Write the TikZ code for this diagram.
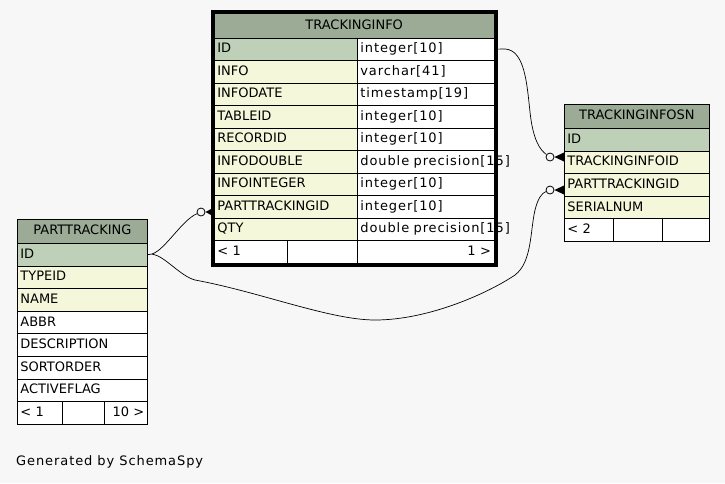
\documentclass[tikz,border=0pt]{standalone}
\usepackage{fontspec}
\setmainfont{DejaVu Sans}
\newfontfamily\typefont[LetterSpace=7]{DejaVu Sans}
\usetikzlibrary{calc}

\definecolor{headbg}{HTML}{9BAB96}
\definecolor{pkbg}{HTML}{BED1B8}
\definecolor{idxbg}{HTML}{F4F7DA}
\definecolor{pagebg}{HTML}{F7F7F7}

\tikzset{
  cell/.style={draw, line width=0.8pt, anchor=north west, inner sep=0pt, inner xsep=3pt,
    minimum height=22.6pt, text height=9.5pt, text depth=2.5pt, align=left,
    font=\fontsize{13}{15}\selectfont},
  head/.style={cell, fill=headbg, align=center},
  pk/.style={fill=pkbg},
  idx/.style={fill=idxbg},
  plain/.style={fill=white},
  odot/.style={draw, line width=0.8pt, circle, fill=pagebg, inner sep=0pt, minimum size=8pt},
  conn/.style={line width=0.7pt},
}

\begin{document}
\begin{tikzpicture}[x=1pt, y=-1pt]
\path[use as bounding box, fill=pagebg] (0,0) rectangle (725,483);

% TRACKINGINFO
\node[head, text width=273.5pt, minimum height=24.5pt] (ti) at (214,13) {TRACKINGINFO};
\foreach \col/\typ/\sty [count=\i from 0] in {ID/integer[10]/pk, INFO/varchar[41]/idx,
    INFODATE/timestamp[19]/idx, TABLEID/integer[10]/idx, RECORDID/integer[10]/idx,
    INFODOUBLE/double precision[15]/idx, INFOINTEGER/integer[10]/idx,
    PARTTRACKINGID/integer[10]/idx, QTY/double precision[15]/idx} {
  \node[cell, \sty, text width=137pt] (ti-\col) at (214,{37.5+22.5*\i}) {\col};
  \node[cell, plain, text width=130.5pt] (ti-\col-type) at (357,{37.5+22.5*\i}) {\typefont\mbox{\typ}};
}
\node[cell, plain, text width=67pt] (ti-f1) at (214,240) {< 1};
\node[cell, plain, text width=64pt] (ti-f2) at (287,240) {};
\node[cell, plain, text width=130.5pt, align=right] (ti-f3) at (357,240) {1 >};
\draw[line width=3.5pt] ([xshift=-1.75pt,yshift=1.5pt]ti.north west) rectangle ([xshift=1.75pt,yshift=-1.75pt]ti-f3.south east);

% TRACKINGINFOSN
\node[head, text width=139pt, minimum height=24pt] (sn) at (564,104) {TRACKINGINFOSN};
\foreach \col/\sty [count=\i from 0] in {ID/pk, TRACKINGINFOID/idx, PARTTRACKINGID/idx, SERIALNUM/idx}
  \node[cell, \sty, text width=139pt] (sn-\col) at (564,{128+22.6*\i}) {\col};
\node[cell, plain, text width=43pt] (sn-f1) at (564,218.4) {< 2};
\node[cell, plain, text width=43pt] (sn-f2) at (613,218.4) {};
\node[cell, plain, text width=41pt] (sn-f3) at (662,218.4) {};

% PARTTRACKING
\node[head, text width=124pt, minimum height=24pt] (pt) at (17,219) {PARTTRACKING};
\foreach \col/\sty [count=\i from 0] in {ID/pk, TYPEID/idx, NAME/idx, ABBR/plain,
    DESCRIPTION/plain, SORTORDER/plain, ACTIVEFLAG/plain}
  \node[cell, \sty, text width=124pt] (pt-\col) at (17,{243+22.6*\i}) {\col};
\node[cell, plain, text width=39pt] (pt-f1) at (17,401.2) {< 1};
\node[cell, plain, text width=36pt] (pt-f2) at (62,401.2) {};
\node[cell, plain, text width=37pt, align=right] (pt-f3) at (104,401.2) {10 >};

% relationships
\node[odot] (o1) at (550,157) {};
\node[odot] (o2) at (550,190) {};
\node[odot] (o3) at (201,212) {};
\coordinate (ptfork) at (152,254);

\draw[conn] (ti-ID-type.east) -- (505,49) .. controls (525,50) and (527,85) .. (530,112)
  .. controls (533,140) and (540,150) .. (o1);
\draw[conn] (pt-ID.east) -- (ptfork) .. controls (165,250) and (182,220) .. (o3);
\draw[conn] (ptfork) .. controls (165,256) and (180,276) .. (195,280)
  .. controls (260,292) and (330,320) .. (375,320)
  .. controls (430,320) and (490,292) .. (515,275)
  .. controls (532,262) and (530,232) .. (535,210)
  .. controls (538,198) and (542,193) .. (o2);
\foreach \o/\t in {o1/sn-TRACKINGINFOID, o2/sn-PARTTRACKINGID, o3/ti-PARTTRACKINGID}
  \fill (\o.east) -- ($(\o.east -| \t.west)+(0,-4.5)$) -- ($(\o.east -| \t.west)+(0,4.5)$) -- cycle;

\node[anchor=base west, inner sep=0pt, font=\typefont\fontsize{13}{15}\selectfont] (credit) at (16,465) {Generated by SchemaSpy};
\end{tikzpicture}
\end{document}
